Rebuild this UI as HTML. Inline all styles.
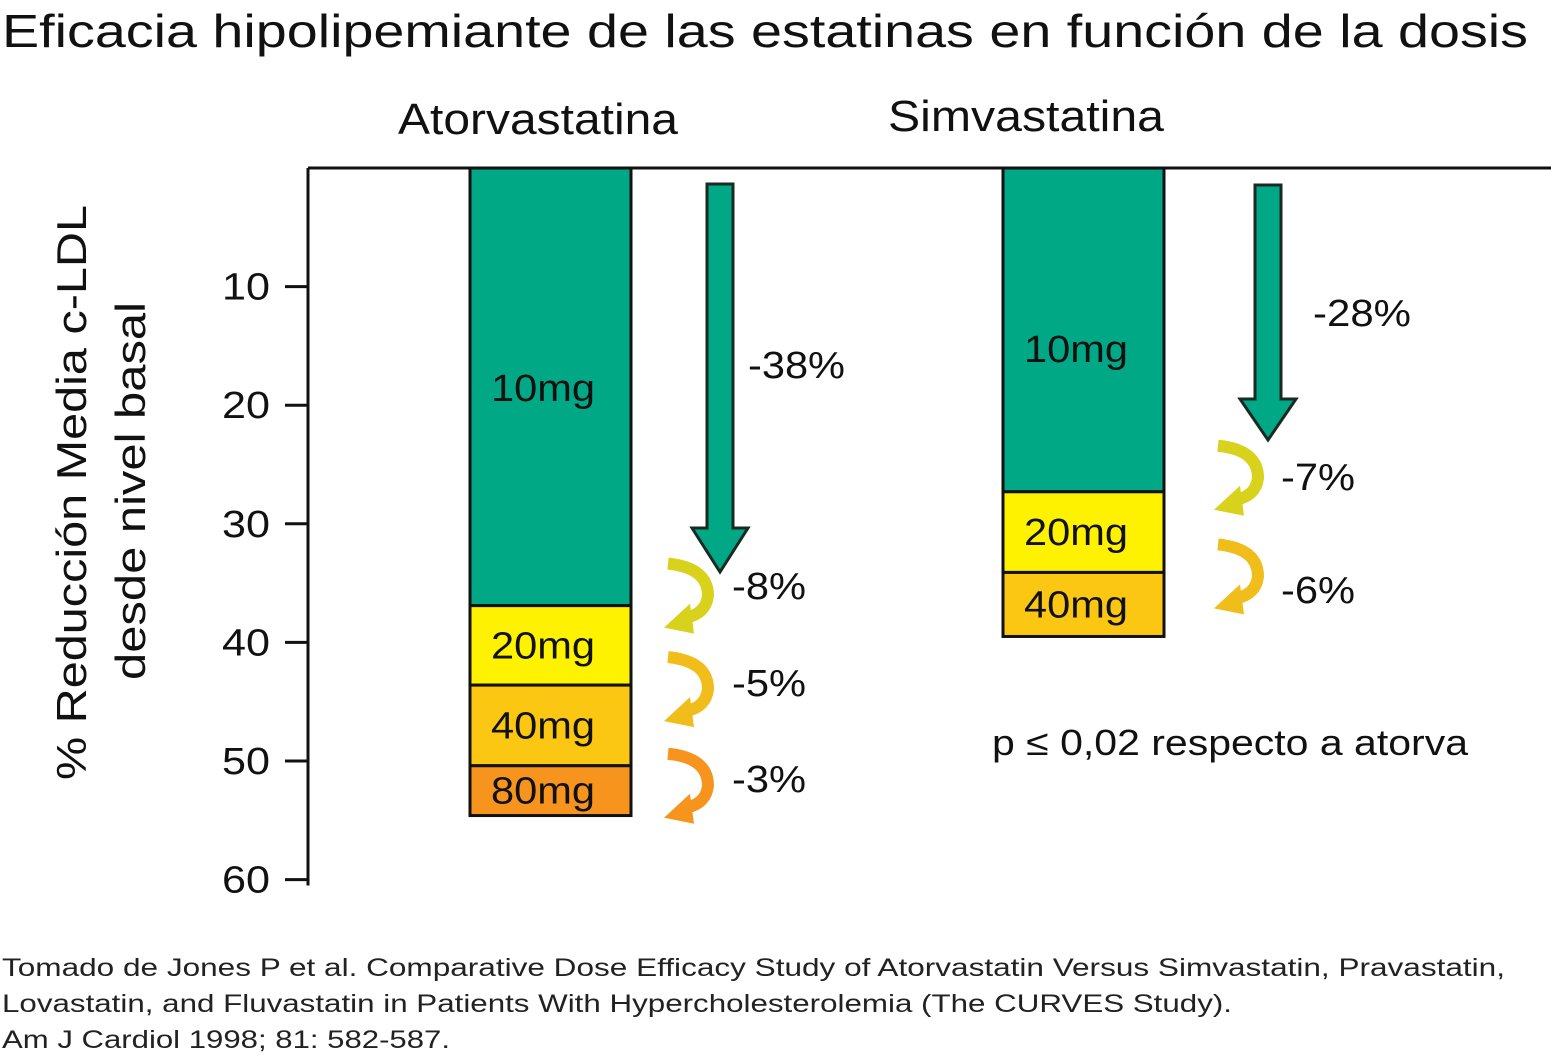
<!DOCTYPE html>
<html><head><meta charset="utf-8"><style>
body{margin:0;background:#fff;width:1551px;height:1058px;overflow:hidden;font-family:"Liberation Sans",sans-serif}
svg{display:block}
</style></head><body>
<svg width="1551" height="1058">
<text x="2" y="47" font-size="46" fill="#111" textLength="1526" lengthAdjust="spacingAndGlyphs">Eficacia hipolipemiante de las estatinas en función de la dosis</text>
<text x="398" y="134" font-size="44" fill="#111" textLength="280" lengthAdjust="spacingAndGlyphs">Atorvastatina</text>
<text x="888" y="131" font-size="44" fill="#111" textLength="276" lengthAdjust="spacingAndGlyphs">Simvastatina</text>
<text transform="translate(86,780) rotate(-90)" font-size="42" fill="#111" textLength="575" lengthAdjust="spacingAndGlyphs">% Reducción Media c-LDL</text>
<text transform="translate(145,680) rotate(-90)" font-size="42" fill="#111" textLength="378" lengthAdjust="spacingAndGlyphs">desde nivel basal</text>
<g id="axis"></g>
<g id="bars"></g>
<g id="arrows"></g>
<text x="992" y="755" font-size="36" fill="#111" textLength="476" lengthAdjust="spacingAndGlyphs">p ≤ 0,02 respecto a atorva</text>
<text x="2" y="976" font-size="25" fill="#222" textLength="1503" lengthAdjust="spacingAndGlyphs">Tomado de Jones P et al. Comparative Dose Efficacy Study of Atorvastatin Versus Simvastatin, Pravastatin,</text>
<text x="2" y="1012" font-size="25" fill="#222" textLength="1230" lengthAdjust="spacingAndGlyphs">Lovastatin, and Fluvastatin in Patients With Hypercholesterolemia (The CURVES Study).</text>
<text x="2" y="1048" font-size="25" fill="#222" textLength="448" lengthAdjust="spacingAndGlyphs">Am J Cardiol 1998; 81: 582-587.</text>
</svg>
<script>
const yTicks=[10,20,30,40,50,60];
const atorDoses=["10mg","20mg","40mg","80mg"];
const atorEnds=[36.9,43.6,50.4,54.6];
const simDoses=["10mg","20mg","40mg"];
const simEnds=[27.3,34.1,39.5];
const atorSteps=["-38%","-8%","-5%","-3%"];
const simSteps=["-28%","-7%","-6%"];
const colors=["#00a886","#fff200","#fcc712","#f7941d"];
const NS="http://www.w3.org/2000/svg";
const y=v=>168+v*11.86;
function mk(t,a,p){const e=document.createElementNS(NS,t);for(const k in a)e.setAttribute(k,a[k]);p.appendChild(e);return e;}
const ax=document.getElementById('axis');
const al=mk('path',{d:`M308 ${y(0)} H1551 M308 ${y(0)} V${y(60.5)}`,stroke:'#111','stroke-width':3,fill:'none'},ax);


yTicks.forEach(v=>{
 const l=mk('line',{x1:285,x2:308,y1:y(v),y2:y(v),stroke:'#111','stroke-width':3},ax);
 
 
 const t=mk('text',{x:270,y:y(v)+13,'font-size':38,'text-anchor':'end',fill:'#111',textLength:48,lengthAdjust:'spacingAndGlyphs'},ax);
 t.textContent=v;
 
 
});
const bg=document.getElementById('bars');
function bars(x0,w,doses,ends,name){
 let s=0;
 doses.forEach((d,i)=>{
  const r=mk('rect',{x:x0,y:y(s),width:w,height:y(ends[i])-y(s),fill:colors[i],stroke:'#111','stroke-width':3},bg);
  
  
  const ty=i==0?(y(s)+y(ends[i]))/2+(name=='ator'?14:32):(y(s)+y(ends[i]))/2+13;
  const t=mk('text',{x:x0+21,y:ty,'font-size':38,fill:'#111',textLength:104,lengthAdjust:'spacingAndGlyphs'},bg);
  t.textContent=d;
  
  
  s=ends[i];
 });
}
bars(470,161,atorDoses,atorEnds,'ator');
bars(1003,161,simDoses,simEnds,'simva');
const ag=document.getElementById('arrows');
function bigArrow(cx,top,shaftEnd,tip,name){
 const p=mk('path',{d:`M${cx-13} ${top} H${cx+13} V${shaftEnd} H${cx+28} L${cx} ${tip} L${cx-28} ${shaftEnd} H${cx-13} Z`,fill:'#00a886',stroke:'#1a2a22','stroke-width':3},ag);
 
 
}
bigArrow(720,184,528,572,'ator-big-arrow');
bigArrow(1268,185,399,440,'simva-big-arrow');
function curl(x,yy,c,name){
 const g=mk('g',{transform:`translate(${x},${yy})`},ag);
 
 
 mk('path',{d:'M4 6 Q44 10 44 38 Q42 56 22 60',stroke:c,'stroke-width':12,fill:'none'},g);
 mk('polygon',{points:'26,46 0,70 30,76',fill:c},g);
}
const curlCols=["#d8d21c","#f2b41c","#f7941d"];
const atorCurlY=[y(atorEnds[0])-48,y(atorEnds[1])-34,y(atorEnds[2])-18];
curl(664,atorCurlY[0],curlCols[0],'ator-curl-1');
curl(664,atorCurlY[1],"#f0bd1a",'ator-curl-2');
curl(664,atorCurlY[2],curlCols[2],'ator-curl-3');
curl(1214,y(simEnds[0])-52,curlCols[0],'simva-curl-1');
curl(1214,y(simEnds[1])-34,"#f0bd1a",'simva-curl-2');
function lab(x,yy,t,name,w){const e=mk('text',{x:x,y:yy,'font-size':38,fill:'#111',textLength:w,lengthAdjust:'spacingAndGlyphs'},ag);e.textContent=t;
 
 }
lab(748,378,atorSteps[0],'ator-step-10',97);
lab(732,599,atorSteps[1],'ator-step-20',74);
lab(732,696,atorSteps[2],'ator-step-40',74);
lab(732,792,atorSteps[3],'ator-step-80',74);
lab(1313,326,simSteps[0],'simva-step-10',98);
lab(1281,490,simSteps[1],'simva-step-20',74);
lab(1281,603,simSteps[2],'simva-step-40',74);
</script>
</body></html>
